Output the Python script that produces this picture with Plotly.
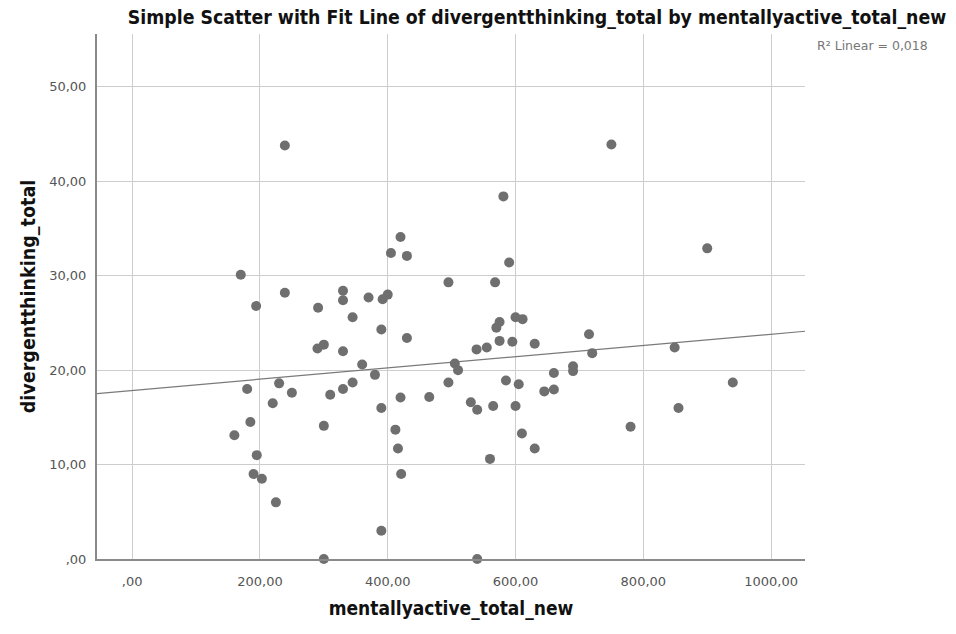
import numpy as np
import plotly.graph_objects as go

# Observations: mentally active total (x) vs divergent thinking total (y)
mentallyactive_total_new = [
    239, 170, 239, 194, 291, 330, 330, 370, 392, 400,
    405, 420, 345, 390, 290, 300, 330, 360, 380, 180,
    230, 250, 220, 310, 330, 345, 390, 420, 185, 160,
    300, 195, 190, 203, 225, 412, 416, 421, 390, 300,
    581, 430, 590, 495, 568, 430, 575, 570, 600, 611,
    575, 595, 630, 715, 539, 555, 720, 505, 510, 495,
    585, 605, 660, 690, 690, 645, 660, 465, 530, 540,
    565, 600, 610, 630, 560, 780, 540, 750, 900, 849,
    940, 855,
]
divergentthinking_total = [
    43.8, 30.1, 28.2, 26.8, 26.6, 28.4, 27.4, 27.7, 27.5, 28.0,
    32.4, 34.1, 25.6, 24.3, 22.3, 22.7, 22.0, 20.6, 19.5, 18.0,
    18.6, 17.6, 16.5, 17.4, 18.0, 18.7, 16.0, 17.1, 14.5, 13.1,
    14.1, 11.0, 9.0, 8.5, 6.0, 13.7, 11.7, 9.0, 3.0, 0.0,
    38.4, 32.1, 31.4, 29.3, 29.3, 23.4, 25.1, 24.5, 25.6, 25.4,
    23.1, 23.0, 22.8, 23.8, 22.2, 22.4, 21.8, 20.7, 20.0, 18.7,
    18.9, 18.5, 19.7, 20.4, 19.9, 17.75, 17.95, 17.15, 16.6, 15.8,
    16.2, 16.2, 13.3, 11.7, 10.6, 14.0, 0.0, 43.9, 32.9, 22.4,
    18.7, 16.0,
]

x_tick_values = [0, 200, 400, 600, 800, 1000]
x_tick_labels = [",00", "200,00", "400,00", "600,00", "800,00", "1000,00"]
y_tick_values = [0, 10, 20, 30, 40, 50]
y_tick_labels = [",00", "10,00", "20,00", "30,00", "40,00", "50,00"]

x_range = [-55, 1053]
y_range = [0, 55.6]

# Ordinary least-squares fit line across the full x range
xs = np.array(mentallyactive_total_new, dtype=float)
ys = np.array(divergentthinking_total, dtype=float)
slope, intercept = np.polyfit(xs, ys, 1)
pred = intercept + slope * xs
r2 = 1 - np.sum((ys - pred) ** 2) / np.sum((ys - ys.mean()) ** 2)
fit_x = np.array(x_range, dtype=float)
fit_y = intercept + slope * fit_x

fig = go.Figure()
fig.add_trace(go.Scatter(
    x=fit_x, y=fit_y, mode="lines",
    line=dict(color="#7a7a7a", width=1.2),
    hoverinfo="skip", showlegend=False,
))
fig.add_trace(go.Scatter(
    x=mentallyactive_total_new, y=divergentthinking_total, mode="markers",
    marker=dict(color="#6f6f6f", size=10, line=dict(width=0)),
    cliponaxis=False, showlegend=False,
))

tick_font = dict(family="DejaVu Sans", size=13, color="#555555")
title_font = "Liberation Sans Narrow, Arial Narrow, DejaVu Sans Condensed, sans-serif"

fig.update_xaxes(
    range=x_range, tickvals=x_tick_values, ticktext=x_tick_labels,
    showgrid=True, gridcolor="#cdcdcd", gridwidth=1,
    showline=True, linecolor="#8a8a8a", linewidth=2,
    zeroline=False, ticks="", tickfont=tick_font, ticklabelstandoff=9,
    title=dict(text="<b>mentallyactive_total_new</b>", standoff=14,
               font=dict(family=title_font, size=19, color="#111111")),
)
fig.update_yaxes(
    range=y_range, tickvals=y_tick_values, ticktext=y_tick_labels,
    showgrid=True, gridcolor="#cdcdcd", gridwidth=1,
    showline=True, linecolor="#8a8a8a", linewidth=2,
    zeroline=False, ticks="", tickfont=tick_font, ticklabelstandoff=6,
    title=dict(text="<b>divergentthinking_total</b>", standoff=8,
               font=dict(family=title_font, size=19.5, color="#111111")),
)

fig.update_layout(
    width=956, height=634,
    margin=dict(l=97, r=151, t=34, b=75),
    paper_bgcolor="white", plot_bgcolor="white",
    title=dict(
        text="<b>Simple Scatter with Fit Line of divergentthinking_total by mentallyactive_total_new</b>",
        x=537 / 956, xanchor="center", y=1 - 17 / 634, yanchor="middle",
        font=dict(family=title_font, size=19.3, color="#111111"),
    ),
    annotations=[dict(
        text="R² Linear = " + f"{r2:.3f}".replace("0.", "0,"),
        xref="paper", yref="paper", x=(930 - 97) / 708, y=1 - (45 - 34) / 525,
        xanchor="right", yanchor="middle", showarrow=False,
        font=dict(family="DejaVu Sans", size=12.5, color="#777777"),
    )],
    showlegend=False,
)

fig.write_html("out.html")
